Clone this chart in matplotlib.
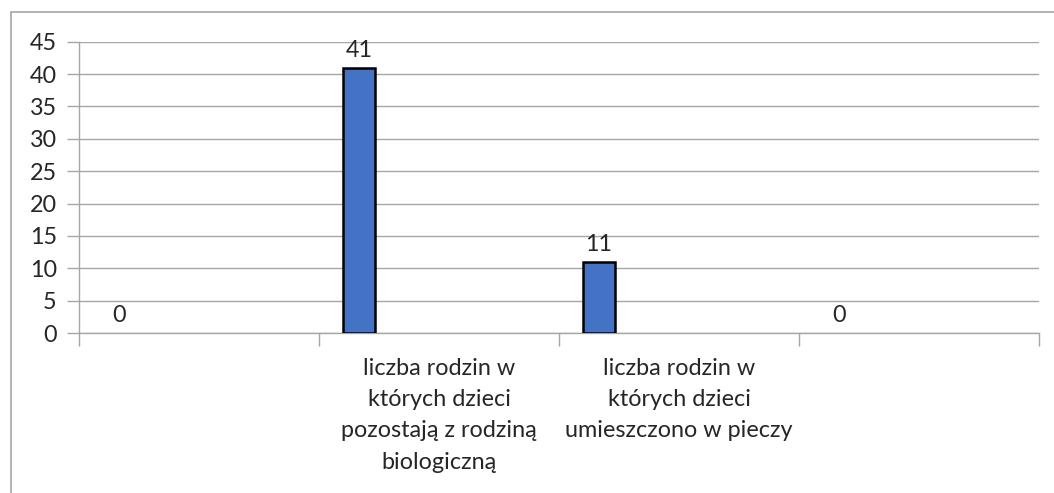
import numpy as np
import matplotlib.pyplot as plt
from matplotlib.patches import Rectangle

plt.rcParams['font.family'] = ['Lato', 'DejaVu Sans']

categories = ['',
              'liczba rodzin w\nktórych dzieci\npozostają z rodziną\nbiologiczną',
              'liczba rodzin w\nktórych dzieci\numieszczono w pieczy',
              '']
values = [0, 41, 11, 0]

grid_col = '#a6a6a6'
text_col = '#262626'
fs = 16.8

fig = plt.figure(figsize=(10.54, 4.93), dpi=100)
ax = fig.add_axes([79/1054, 1 - 333/493, 960/1054, (333 - 41.7)/493])

# outer chart frame
fig.patches.append(Rectangle((11/1054, -0.1), 2.0, 1 - 12/493 + 0.1,
                             transform=fig.transFigure, fill=False,
                             edgecolor=grid_col, linewidth=1.2))

x = np.arange(len(values))
bar_x = x + 0.5 - 1/3
bars = ax.bar(bar_x, values, width=0.137, color='#4472C4',
              edgecolor='black', linewidth=1.8, zorder=3)
for b, v in zip(bars, values):
    if v == 0:
        b.set_linewidth(0)

for bx, v in zip(bar_x, values):
    ax.annotate(str(v), (bx, v), xytext=(0, 5), textcoords='offset points',
                ha='center', va='bottom', fontsize=fs, color=text_col)

ax.set_xlim(0, len(values))
ax.set_ylim(0, 45)
ax.set_yticks(np.arange(0, 46, 5))
ax.set_xticks(np.arange(len(values) + 1))
ax.set_xticklabels([])
ax.set_xticks(x + 0.5, categories, minor=True)
ax.tick_params(axis='x', which='minor', length=0, pad=18,
               labelsize=fs, labelcolor=text_col)
ax.tick_params(axis='x', which='major', length=9, color=grid_col, width=1)
ax.tick_params(axis='y', length=9, color=grid_col, width=1, pad=7,
               labelsize=fs, labelcolor=text_col)
for lab in ax.get_xticklabels(minor=True):
    lab.set_linespacing(1.6)

ax.grid(axis='y', color=grid_col, linewidth=1, zorder=0)
for side in ['top', 'right']:
    ax.spines[side].set_visible(False)
for side in ['left', 'bottom']:
    ax.spines[side].set_color(grid_col)
    ax.spines[side].set_linewidth(1)

plt.savefig('out.png', dpi=100)
